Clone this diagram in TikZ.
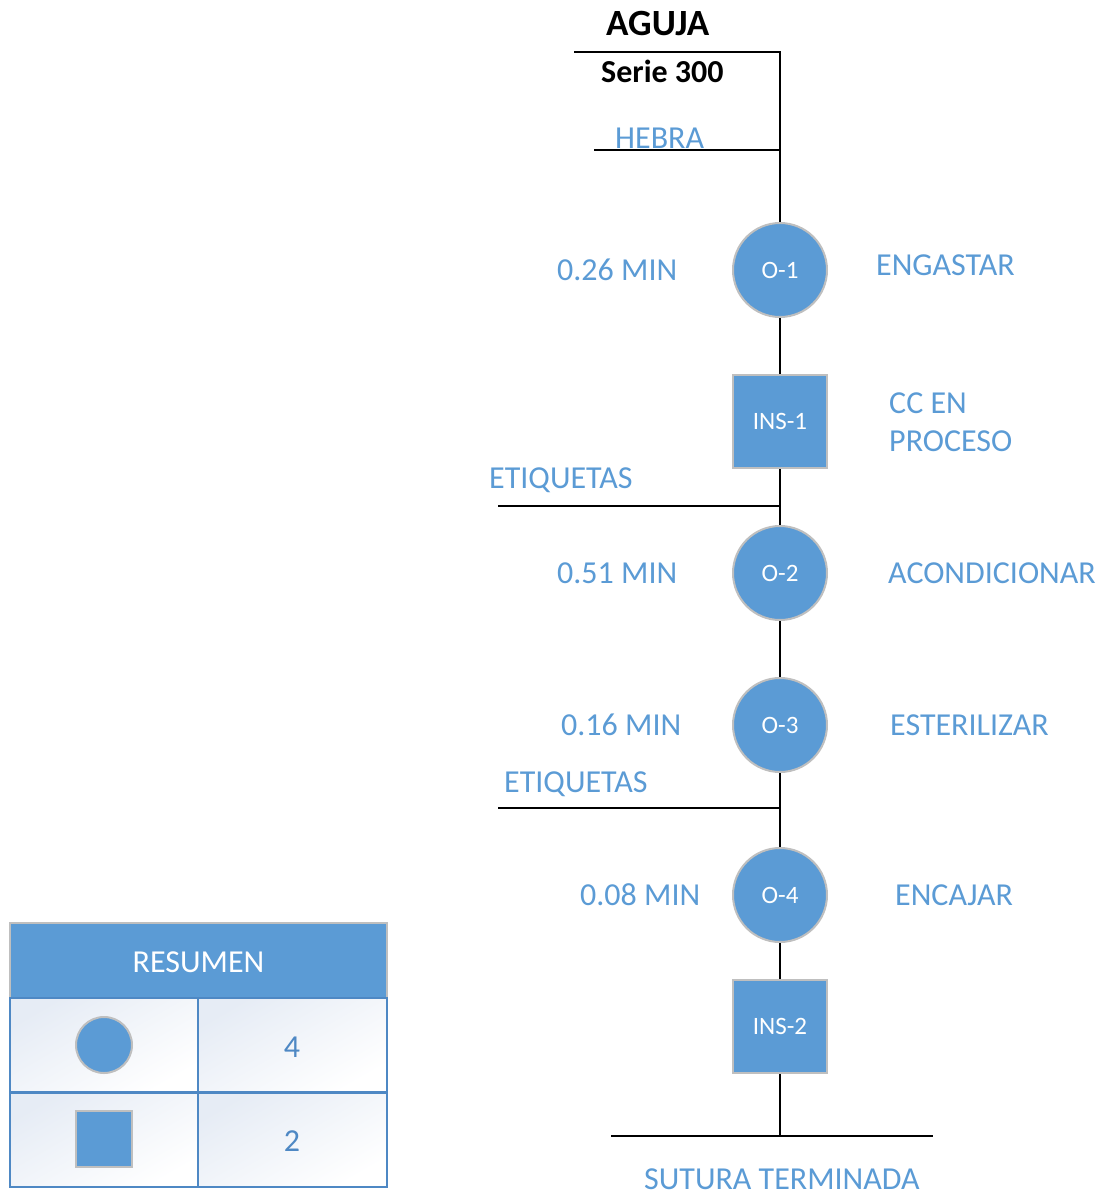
\documentclass[tikz,border=0pt]{standalone}
\usepackage{fontspec}
\setmainfont{Carlito}
\definecolor{opblue}{HTML}{5B9BD5}
\definecolor{edgegray}{HTML}{BFBFBF}
\definecolor{gridblue}{HTML}{4E88C4}
\definecolor{cellgray}{HTML}{E6ECF5}
\begin{document}
\begin{tikzpicture}[x=1pt,y=-1pt,
  flow/.style={line width=2.8pt,black},
  opcircle/.style={circle,fill=opblue,draw=edgegray,line width=2pt,minimum size=94pt,inner sep=0pt,text=white,font=\fontsize{25}{30}\selectfont},
  inspbox/.style={rectangle,fill=opblue,draw=edgegray,line width=2pt,minimum width=94pt,minimum height=93pt,inner sep=0pt,text=white,font=\fontsize{25}{30}\selectfont},
  lbl/.style={anchor=base west,inner sep=0pt,text=opblue,font=\fontsize{32}{38}\selectfont},
  ttl/.style={anchor=base west,inner sep=0pt,text=black,font=\fontsize{32}{38}\selectfont\bfseries},
  cell/.style={rectangle,draw=gridblue,line width=2pt,minimum width=188pt,minimum height=94pt,inner sep=0pt,top color=cellgray,bottom color=white,shading angle=30},
  num/.style={anchor=base,inner sep=0pt,text=gridblue,font=\fontsize{32}{38}\selectfont}]
\useasboundingbox (0,0) rectangle (1102,1202);

% branch and junction points of the main line
\coordinate (topL) at (574,52);
\coordinate (top) at (780,52);
\coordinate (hebL) at (594,150);
\coordinate (heb) at (780,150);
\coordinate (etaL) at (498,506);
\coordinate (eta) at (780,506);
\coordinate (etbL) at (498,808);
\coordinate (etb) at (780,808);
\coordinate (botL) at (611,1136);
\coordinate (bot) at (780,1136);
\coordinate (botR) at (933,1136);

% process symbols
\node[opcircle] (o1) at (780,270) {O-1};
\node[inspbox] (ins1) at (780,421.5) {INS-1};
\node[opcircle] (o2) at (780,573) {O-2};
\node[opcircle] (o3) at (780,725) {O-3};
\node[opcircle] (o4) at (780,895) {O-4};
\node[inspbox] (ins2) at (780,1026.5) {INS-2};

% connecting lines
\draw[flow] (topL) -- (top) -- (heb) -- (o1);
\draw[flow] (hebL) -- (heb);
\draw[flow] (o1) -- (ins1);
\draw[flow] (ins1) -- (eta) -- (o2);
\draw[flow] (etaL) -- (eta);
\draw[flow] (o2) -- (o3);
\draw[flow] (o3) -- (etb) -- (o4);
\draw[flow] (etbL) -- (etb);
\draw[flow] (o4) -- (ins2);
\draw[flow] (ins2) -- (bot);
\draw[flow] (botL) -- (bot) -- (botR);

% titles
\node[ttl,font=\fontsize{37}{44}\selectfont\bfseries] (title) at (606,35) {AGUJA};
\node[ttl] (serie) at (601,82) {Serie 300};

% material inputs
\node[lbl] (hebra) at (615,148) {HEBRA};
\node[lbl] (etqa) at (489,488) {ETIQUETAS};
\node[lbl] (etqb) at (504,792) {ETIQUETAS};
\node[lbl] (sutura) at (644,1189) {SUTURA TERMINADA};

% times
\node[lbl] (t1) at (557,280.5) {0.26 MIN};
\node[lbl] (t2) at (557,583.5) {0.51 MIN};
\node[lbl] (t3) at (561,735.5) {0.16 MIN};
\node[lbl] (t4) at (580,905) {0.08 MIN};

% activity names
\node[lbl] (a1) at (876,275) {ENGASTAR};
\node[lbl] (a2) at (889,413) {CC EN};
\node[lbl] (a2b) at (889,451) {PROCESO};
\node[lbl] (a3) at (888,583.5) {ACONDICIONAR};
\node[lbl] (a4) at (890,735.5) {ESTERILIZAR};
\node[lbl] (a5) at (895,905) {ENCAJAR};

% summary table
\node[rectangle,fill=opblue,draw=edgegray,line width=2pt,minimum width=377pt,minimum height=75pt,inner sep=0pt] (head) at (198.5,960.5) {};
\node[anchor=base,inner sep=0pt,text=white,font=\fontsize{32}{38}\selectfont] (headtxt) at (198.5,972) {RESUMEN};
\node[cell] (c11) at (104,1045) {};
\node[cell,minimum width=189pt] (c12) at (292.5,1045) {};
\node[cell] (c21) at (104,1139.5) {};
\node[cell,minimum width=189pt] (c22) at (292.5,1139.5) {};
\node[circle,fill=opblue,draw=edgegray,line width=2pt,minimum size=56pt,inner sep=0pt] (lgo) at (104,1045) {};
\node[rectangle,fill=opblue,draw=edgegray,line width=2pt,minimum size=56pt,inner sep=0pt] (lgi) at (104,1139) {};
\node[num] (n1) at (292,1057) {4};
\node[num] (n2) at (292,1151) {2};
\end{tikzpicture}
\end{document}
